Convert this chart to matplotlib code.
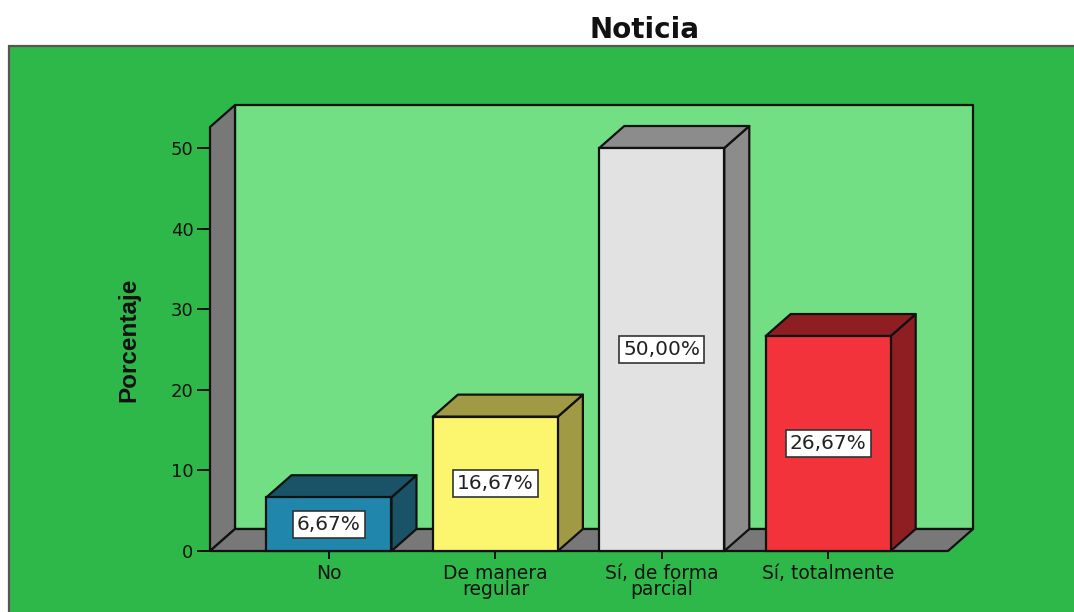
import matplotlib
matplotlib.use("Agg")
import matplotlib.pyplot as plt
from matplotlib.patches import Polygon, Rectangle

categories = ["No", "De manera\nregular", "Sí, de forma\nparcial", "Sí, totalmente"]
values = [6.67, 16.67, 50.00, 26.67]
value_labels = ["6,67%", "16,67%", "50,00%", "26,67%"]
y_ticks = [0, 10, 20, 30, 40, 50]

front_colours = ["#2186AC", "#FCF66E", "#E2E2E2", "#F2333B"]
dark_colours = ["#1A5368", "#A09A45", "#8C8C8C", "#8F1E22"]

panel_green = "#2FB84A"
wall_green = "#72DF84"
wall_grey = "#787878"
ink = "#111111"

W, H = 1074, 612
fig = plt.figure(figsize=(W / 100, H / 100), dpi=100, facecolor="white")

# outer panel runs off the right and bottom of the picture
fig.add_artist(Rectangle((9 / W, -0.02), 1.1, (612 - 46) / H + 0.02, transform=fig.transFigure,
                         facecolor=panel_green, edgecolor="#555555", linewidth=1.6, zorder=-1))

# axes = the front plane of the 3D box
ax = fig.add_axes([210 / W, (H - 551) / H, (948 - 210) / W, (551 - 148) / H])
ax.patch.set_visible(False)
ax.set_xlim(-0.715, 3.72)
ax.set_ylim(0, 50)
for s in ax.spines.values():
    s.set_visible(False)

dx = 25 / 166.4
dy = 22 / 8.06
x0, x1 = ax.get_xlim()
y_top = 52.6
lw = 1.6


def poly(points, colour, z):
    ax.add_patch(Polygon(points, closed=True, facecolor=colour, edgecolor=ink, linewidth=lw,
                         joinstyle="round", clip_on=False, zorder=z))


poly([(x0 + dx, dy), (x1 + dx, dy), (x1 + dx, y_top + dy), (x0 + dx, y_top + dy)], wall_green, 1)
poly([(x0, 0), (x0 + dx, dy), (x0 + dx, y_top + dy), (x0, y_top)], wall_grey, 1.1)
poly([(x0, 0), (x1, 0), (x1 + dx, dy), (x0 + dx, dy)], wall_grey, 1.1)

width = 125 / 166.4
for i, v in enumerate(values):
    left, right = i - width / 2, i + width / 2
    poly([(right, 0), (right + dx, dy), (right + dx, v + dy), (right, v)], dark_colours[i], 2)
    poly([(left, v), (right, v), (right + dx, v + dy), (left + dx, v + dy)], dark_colours[i], 2)
    ax.bar(i, v, width, color=front_colours[i], edgecolor=ink, linewidth=lw, zorder=3, clip_on=False)
    ax.text(i, v / 2, value_labels[i], ha="center", va="center", fontsize=14.5, color="#222222",
            family="DejaVu Sans", zorder=4,
            bbox=dict(facecolor="white", edgecolor="#333333", linewidth=1.2, boxstyle="square,pad=0.2"))

ax.set_xticks(range(len(categories)))
ax.set_xticklabels(categories, fontsize=13.5, color="#111111", linespacing=0.76, family="DejaVu Sans")
ax.set_yticks(y_ticks)
ax.set_yticklabels(y_ticks, fontsize=13, color="#111111", family="DejaVu Sans")
ax.tick_params(axis="y", length=9.5, width=1.4, color=ink, pad=2.5)
ax.tick_params(axis="x", length=6, width=1.4, color=ink, pad=3.5)

fig.text(645 / W, 1 - 30 / H, "Noticia", ha="center", va="center", fontsize=20, fontweight="bold",
         color="#111111", family="DejaVu Sans")
fig.text(129 / W, 1 - 340 / H, "Porcentaje", rotation=90, ha="center", va="center", fontsize=17.5,
         fontweight="bold", color="#111111", family="Liberation Sans")

fig.savefig("out.png", dpi=100)
